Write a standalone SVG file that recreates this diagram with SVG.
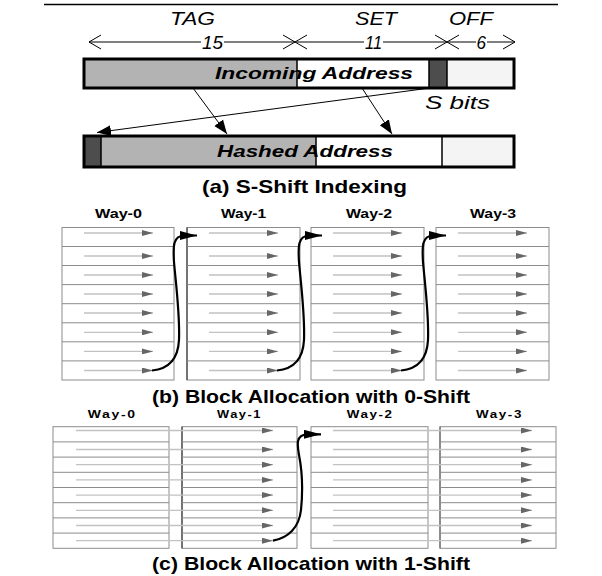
<svg xmlns="http://www.w3.org/2000/svg" width="602" height="576" viewBox="0 0 602 576">
<defs>
<style>
text{font-family:"Liberation Sans",Arial,sans-serif;fill:#000}
.it{font-style:italic;font-size:18px}
.bi{font-style:italic;font-weight:bold;font-size:17px}
.cap{font-weight:bold;font-size:19px}
.wl{font-weight:bold;font-size:12px}
.wl2{font-weight:bold;font-size:10px;letter-spacing:1.2px}
.thin{stroke:#000;stroke-width:1;fill:none}
.box{stroke:#000;stroke-width:3;fill:none}
.div{stroke:#000;stroke-width:1.5}
.grid{stroke:#8c8c8c;stroke-width:1;fill:none}
.ga{stroke:#c2c2c2;stroke-width:1.3;fill:none}
.ga line{marker-end:url(#ga)}
.curve{stroke:#000;stroke-width:2.2;fill:none}
</style>
<marker id="ah" markerUnits="userSpaceOnUse" markerWidth="14" markerHeight="12" viewBox="0 0 13 10" refX="13" refY="5" orient="auto"><path d="M0,0 L13,5 L0,10 Z" fill="#000"/></marker>
<marker id="ch" markerUnits="userSpaceOnUse" markerWidth="17" markerHeight="9" viewBox="0 0 17 9" refX="17" refY="4.5" orient="auto"><path d="M0,0 L17,4.5 L0,9 Z" fill="#000"/></marker>
<marker id="ga" markerUnits="userSpaceOnUse" markerWidth="11" markerHeight="6" viewBox="0 0 11 6" refX="11" refY="3" orient="auto"><path d="M0,0 L11,3 L0,6 Z" fill="#666"/></marker>
</defs>
<rect x="0" y="0" width="602" height="576" fill="#fff"/>
<line x1="44" y1="4.5" x2="558" y2="4.5" stroke="#000" stroke-width="1.5"/>

<g id="part-a">
<g id="field-labels">
<text class="it" x="170" y="25" textLength="45" lengthAdjust="spacingAndGlyphs">TAG</text>
<text class="it" x="355" y="25" textLength="42" lengthAdjust="spacingAndGlyphs">SET</text>
<text class="it" x="449" y="25" textLength="44" lengthAdjust="spacingAndGlyphs">OFF</text>
</g>
<g id="dimension" stroke="#000" stroke-width="1" fill="none">
<path d="M89,42 H201 M224,42 H364 M383,42 H476 M487,42 H515"/>
<path d="M101,35 L89,42 L101,49"/>
<path d="M283,35 L295,42 L283,49 M307,35 L295,42 L307,49"/>
<path d="M435,35 L447,42 L435,49 M459,35 L447,42 L459,49"/>
<path d="M503,35 L515,42 L503,49"/>
</g>
<text class="it" x="202" y="48.5" textLength="21" lengthAdjust="spacingAndGlyphs">15</text>
<text class="it" x="365" y="48.5" textLength="17" lengthAdjust="spacingAndGlyphs">11</text>
<text class="it" x="476.5" y="48.5" textLength="9.5" lengthAdjust="spacingAndGlyphs">6</text>

<g id="incoming-address">
<rect x="84" y="59" width="213" height="29" fill="#b3b3b3"/>
<rect x="297" y="59" width="132" height="29" fill="#fff"/>
<rect x="429" y="59" width="18" height="29" fill="#4d4d4d"/>
<rect x="447" y="59" width="67" height="29" fill="#f4f4f4"/>
<line class="div" x1="297" y1="59" x2="297" y2="88"/>
<line class="div" x1="429" y1="59" x2="429" y2="88"/>
<line class="div" x1="447" y1="59" x2="447" y2="88"/>
<rect class="box" x="84" y="59" width="430" height="29"/>
<text class="bi" x="215" y="79" textLength="198" lengthAdjust="spacingAndGlyphs">Incoming Address</text>
</g>
<text class="it" x="425" y="109" textLength="65" lengthAdjust="spacingAndGlyphs">S bits</text>

<g id="hashed-address">
<rect x="84" y="136" width="17" height="31" fill="#4d4d4d"/>
<rect x="101" y="136" width="215" height="31" fill="#b3b3b3"/>
<rect x="316" y="136" width="126" height="31" fill="#fff"/>
<rect x="442" y="136" width="72" height="31" fill="#f4f4f4"/>
<line class="div" x1="101" y1="136" x2="101" y2="167"/>
<line class="div" x1="316" y1="136" x2="316" y2="167"/>
<line class="div" x1="442" y1="136" x2="442" y2="167"/>
<rect class="box" x="84" y="136" width="430" height="31"/>
<text class="bi" x="217" y="157" textLength="176" lengthAdjust="spacingAndGlyphs">Hashed Address</text>
</g>
<text class="cap" x="202" y="193" textLength="205" lengthAdjust="spacingAndGlyphs">(a) S-Shift Indexing</text>
</g>

<g id="connectors-a">
<line class="thin" x1="193" y1="88" x2="227" y2="134" marker-end="url(#ah)"/>
<line class="thin" x1="362" y1="88" x2="392" y2="134" marker-end="url(#ah)"/>
<line class="thin" x1="430" y1="88" x2="97" y2="132.5" marker-end="url(#ah)"/>
</g>

<g id="part-b">
<text class="wl" x="95" y="218" textLength="47" lengthAdjust="spacingAndGlyphs">Way-0</text>
<text class="wl" x="221" y="218" textLength="45" lengthAdjust="spacingAndGlyphs">Way-1</text>
<text class="wl" x="346" y="218" textLength="46" lengthAdjust="spacingAndGlyphs">Way-2</text>
<text class="wl" x="470" y="218" textLength="46" lengthAdjust="spacingAndGlyphs">Way-3</text>

<g id="b-way0">
<rect class="grid" x="62" y="227.5" width="112" height="152.5"/>
<path class="grid" d="M62,246.5H174M62,265.5H174M62,284.6H174M62,303.7H174M62,322.8H174M62,341.8H174M62,360.9H174"/>
<g class="ga">
<line x1="84" y1="233" x2="153" y2="233"/><line x1="84" y1="256" x2="153" y2="256"/><line x1="84" y1="275" x2="153" y2="275"/><line x1="84" y1="294" x2="153" y2="294"/><line x1="84" y1="313" x2="153" y2="313"/><line x1="84" y1="332.3" x2="153" y2="332.3"/><line x1="84" y1="351.4" x2="153" y2="351.4"/><line x1="84" y1="370.5" x2="153" y2="370.5"/>
</g>
</g>
<g id="b-way1">
<rect class="grid" x="187" y="227.5" width="113" height="152.5"/>
<line x1="187" y1="227.5" x2="187" y2="380" stroke="#222" stroke-width="1"/>
<path class="grid" d="M187,246.5H300M187,265.5H300M187,284.6H300M187,303.7H300M187,322.8H300M187,341.8H300M187,360.9H300"/>
<g class="ga">
<line x1="209" y1="233" x2="278" y2="233"/><line x1="209" y1="256" x2="278" y2="256"/><line x1="209" y1="275" x2="278" y2="275"/><line x1="209" y1="294" x2="278" y2="294"/><line x1="209" y1="313" x2="278" y2="313"/><line x1="209" y1="332.3" x2="278" y2="332.3"/><line x1="209" y1="351.4" x2="278" y2="351.4"/><line x1="209" y1="370.5" x2="278" y2="370.5"/>
</g>
</g>
<g id="b-way2">
<rect class="grid" x="311" y="227.5" width="113" height="152.5"/>
<path class="grid" d="M311,246.5H424M311,265.5H424M311,284.6H424M311,303.7H424M311,322.8H424M311,341.8H424M311,360.9H424"/>
<g class="ga">
<line x1="333" y1="233" x2="402" y2="233"/><line x1="333" y1="256" x2="402" y2="256"/><line x1="333" y1="275" x2="402" y2="275"/><line x1="333" y1="294" x2="402" y2="294"/><line x1="333" y1="313" x2="402" y2="313"/><line x1="333" y1="332.3" x2="402" y2="332.3"/><line x1="333" y1="351.4" x2="402" y2="351.4"/><line x1="333" y1="370.5" x2="402" y2="370.5"/>
</g>
</g>
<g id="b-way3">
<rect class="grid" x="436" y="227.5" width="113" height="152.5"/>
<path class="grid" d="M436,246.5H549M436,265.5H549M436,284.6H549M436,303.7H549M436,322.8H549M436,341.8H549M436,360.9H549"/>
<g class="ga">
<line x1="458" y1="233" x2="527" y2="233"/><line x1="458" y1="256" x2="527" y2="256"/><line x1="458" y1="275" x2="527" y2="275"/><line x1="458" y1="294" x2="527" y2="294"/><line x1="458" y1="313" x2="527" y2="313"/><line x1="458" y1="332.3" x2="527" y2="332.3"/><line x1="458" y1="351.4" x2="527" y2="351.4"/><line x1="458" y1="370.5" x2="527" y2="370.5"/>
</g>
</g>
<text class="cap" x="152" y="403" textLength="318" lengthAdjust="spacingAndGlyphs">(b) Block Allocation with 0-Shift</text>
</g>

<g id="connectors-b">
<path class="curve" marker-end="url(#ch)" d="M152,370.5 C168,369 178,360 179,340 C180,315 176,285 174,262 C173,246 173,236 184,235.5 L197,235.5"/>
<path class="curve" marker-end="url(#ch)" d="M277,370.5 C293,369 303,360 304,340 C305,315 301,285 299,262 C298,246 298,236 309,235.5 L322,235.5"/>
<path class="curve" marker-end="url(#ch)" d="M401,370.5 C417,369 427,360 428,340 C429,315 425,285 423,262 C422,246 422,236 433,235.5 L446,235.5"/>
</g>

<g id="part-c">
<text class="wl2" x="87.7" y="418" textLength="49" lengthAdjust="spacingAndGlyphs">Way-0</text>
<text class="wl2" x="217" y="418" textLength="45" lengthAdjust="spacingAndGlyphs">Way-1</text>
<text class="wl2" x="346.7" y="418" textLength="47" lengthAdjust="spacingAndGlyphs">Way-2</text>
<text class="wl2" x="476" y="418" textLength="47" lengthAdjust="spacingAndGlyphs">Way-3</text>

<g id="c-way0">
<rect class="grid" x="53" y="426.7" width="116" height="121.6"/>
<path class="grid" d="M53,441.9H169M53,457.1H169M53,472.3H169M53,487.5H169M53,502.7H169M53,517.9H169M53,533.1H169"/>
</g>
<g id="c-way1">
<rect class="grid" x="182" y="426.7" width="115" height="121.6"/>
<line x1="182" y1="426.7" x2="182" y2="548.3" stroke="#222" stroke-width="1"/>
<path class="grid" d="M182,441.9H297M182,457.1H297M182,472.3H297M182,487.5H297M182,502.7H297M182,517.9H297M182,533.1H297"/>
</g>
<g id="c-way2">
<rect class="grid" x="311" y="426.7" width="117" height="121.6"/>
<path class="grid" d="M311,441.9H428M311,457.1H428M311,472.3H428M311,487.5H428M311,502.7H428M311,517.9H428M311,533.1H428"/>
</g>
<g id="c-way3">
<rect class="grid" x="440" y="426.7" width="116" height="121.6"/>
<line x1="440" y1="426.7" x2="440" y2="548.3" stroke="#555" stroke-width="1"/>
<path class="grid" d="M440,441.9H556M440,457.1H556M440,472.3H556M440,487.5H556M440,502.7H556M440,517.9H556M440,533.1H556"/>
</g>
<g class="ga">
<line x1="76" y1="430.5" x2="273" y2="430.5"/><line x1="76" y1="449.5" x2="273" y2="449.5"/><line x1="76" y1="464.7" x2="273" y2="464.7"/><line x1="76" y1="479.9" x2="273" y2="479.9"/><line x1="76" y1="495.1" x2="273" y2="495.1"/><line x1="76" y1="510.3" x2="273" y2="510.3"/><line x1="76" y1="525.5" x2="273" y2="525.5"/><line x1="76" y1="540.7" x2="273" y2="540.7"/>
</g>
<g class="ga">
<line x1="333" y1="430.5" x2="532" y2="430.5"/><line x1="333" y1="449.5" x2="532" y2="449.5"/><line x1="333" y1="464.7" x2="532" y2="464.7"/><line x1="333" y1="479.9" x2="532" y2="479.9"/><line x1="333" y1="495.1" x2="532" y2="495.1"/><line x1="333" y1="510.3" x2="532" y2="510.3"/><line x1="333" y1="525.5" x2="532" y2="525.5"/><line x1="333" y1="540.7" x2="532" y2="540.7"/>
</g>
<text class="cap" x="152" y="570" textLength="318" lengthAdjust="spacingAndGlyphs">(c) Block Allocation with 1-Shift</text>
</g>

<g id="connectors-c">
<path class="curve" marker-end="url(#ch)" d="M273,540.7 C288,538 299,528 301,510 C303,490 302,470 299,455 C297,444 296,435 307,434.3 L321,434.3"/>
</g>
</svg>
